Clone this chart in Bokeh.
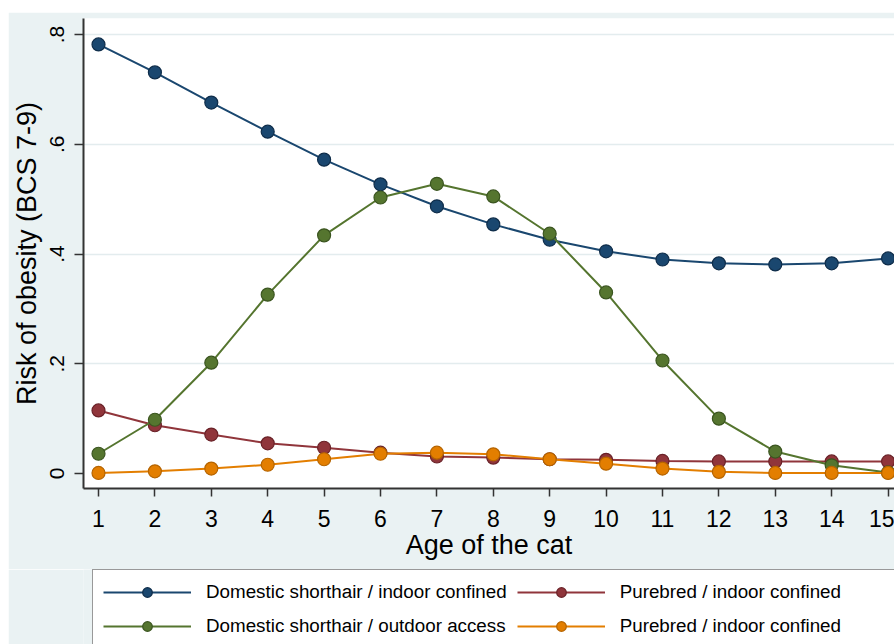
from bokeh.plotting import figure
from bokeh.models import Range1d, FixedTicker, Legend, LegendItem, Spacer
from bokeh.layouts import column, row
from bokeh.embed import file_html
from bokeh.resources import INLINE

# ---- data ----
age = list(range(1, 16))
dsh_indoor = [0.782, 0.731, 0.676, 0.623, 0.572, 0.527, 0.487, 0.454, 0.426, 0.405,
              0.390, 0.383, 0.381, 0.383, 0.392]
pb_indoor = [0.115, 0.088, 0.071, 0.055, 0.047, 0.038, 0.031, 0.029, 0.026, 0.025,
             0.023, 0.022, 0.022, 0.022, 0.022]
dsh_outdoor = [0.036, 0.098, 0.202, 0.326, 0.434, 0.503, 0.528, 0.505, 0.437, 0.330,
               0.206, 0.100, 0.040, 0.015, 0.002]
pb_indoor_b = [0.001, 0.004, 0.009, 0.016, 0.026, 0.036, 0.038, 0.035, 0.026, 0.018,
               0.009, 0.003, 0.001, 0.001, 0.001]

labels = ["Domestic shorthair / indoor confined", "Purebred / indoor confined",
          "Domestic shorthair / outdoor access", "Purebred / indoor confined"]
series = [dsh_indoor, pb_indoor, dsh_outdoor, pb_indoor_b]
fills = ["#1A476F", "#90353B", "#55752F", "#E37E00"]
edges = ["#0F2D4A", "#6A2228", "#3B5520", "#B56400"]

y_ticks = [0, 0.2, 0.4, 0.6, 0.8]
y_tick_labels = ["0", ".2", ".4", ".6", ".8"]

FONT = "Liberation Sans"
BG = "#EAF2F3"

# ---- main plot ----
p = figure(width=886, height=557, output_backend="svg", toolbar_location=None,
           x_range=Range1d(0.734, 15.114), y_range=Range1d(-0.0273, 0.8292),
           min_border_left=75, min_border_right=0, min_border_top=6,
           min_border_bottom=81)
p.border_fill_color = BG
p.background_fill_color = "white"
p.outline_line_color = None

for ys, fc, ec in zip(series, fills, edges):
    p.line(age, ys, line_color=fc, line_width=2)
    p.scatter(age, ys, size=13, fill_color=fc, line_color=ec, line_width=1.2)

p.xaxis.ticker = FixedTicker(ticks=age)
p.yaxis.ticker = FixedTicker(ticks=y_ticks)
p.yaxis.major_label_overrides = {t: l for t, l in zip(y_ticks, y_tick_labels)}
p.xaxis.axis_label = "Age of the cat"
p.yaxis.axis_label = "Risk of obesity (BCS 7-9)"
for ax in (p.xaxis[0], p.yaxis[0]):
    ax.axis_line_color = "#333333"
    ax.axis_line_width = 2
    ax.major_tick_line_color = "#333333"
    ax.major_tick_line_width = 1.5
    ax.major_tick_out = 8
    ax.major_tick_in = 0
    ax.minor_tick_line_color = None
    ax.major_label_text_font = FONT
    ax.axis_label_text_font = FONT
    ax.axis_label_text_font_style = "normal"
    ax.axis_label_text_font_size = "27px"
    ax.major_label_text_color = "black"
    ax.axis_label_text_color = "black"
p.xaxis.major_label_text_font_size = "23px"
p.yaxis.major_label_text_font_size = "21px"
p.yaxis.major_label_orientation = "vertical"
p.xaxis.major_label_standoff = 13
p.xaxis.axis_label_standoff = 0
p.yaxis.major_tick_out = 9
p.yaxis.major_label_standoff = 10
p.yaxis.axis_label_standoff = 6

p.xgrid.visible = False
p.ygrid.ticker = FixedTicker(ticks=[0.2, 0.4, 0.6, 0.8])
p.ygrid.grid_line_color = "#E3ECEE"
p.ygrid.grid_line_width = 1.5

# ---- legend strip: same series, drawn out of view, only their legend shows ----
p2 = figure(width=886, height=75, output_backend="svg", toolbar_location=None,
            x_axis_location=None, y_axis_location=None, min_border=0,
            x_range=Range1d(100, 101), y_range=Range1d(100, 101))
p2.grid.visible = False
p2.outline_line_color = None
p2.background_fill_color = BG
p2.border_fill_color = BG

items = []
for lab, ys, fc, ec in zip(labels, series, fills, edges):
    ln = p2.line(age, ys, line_color=fc, line_width=2)
    sc = p2.scatter(age, ys, size=13, fill_color=fc, line_color=ec, line_width=1.2)
    items.append(LegendItem(label=lab, renderers=[ln, sc]))

# p2's frame is aligned with p's frame (left edge at 75px inside the canvas)
legend = Legend(items=items, orientation="horizontal", ncols=2,
                location=(9, -5), margin=0, padding=10, spacing=10,
                glyph_width=88, glyph_height=24, label_height=24,
                label_standoff=15, label_width=300,
                label_text_font=FONT, label_text_font_size="18.8px",
                label_text_color="black",
                background_fill_color="white", background_fill_alpha=1.0,
                border_line_color="#333333", border_line_width=1.5)
p2.add_layout(legend)

layout = column(Spacer(height=12), row(Spacer(width=8), column(p, p2)))
open("out.html", "w").write(file_html(layout, INLINE))
